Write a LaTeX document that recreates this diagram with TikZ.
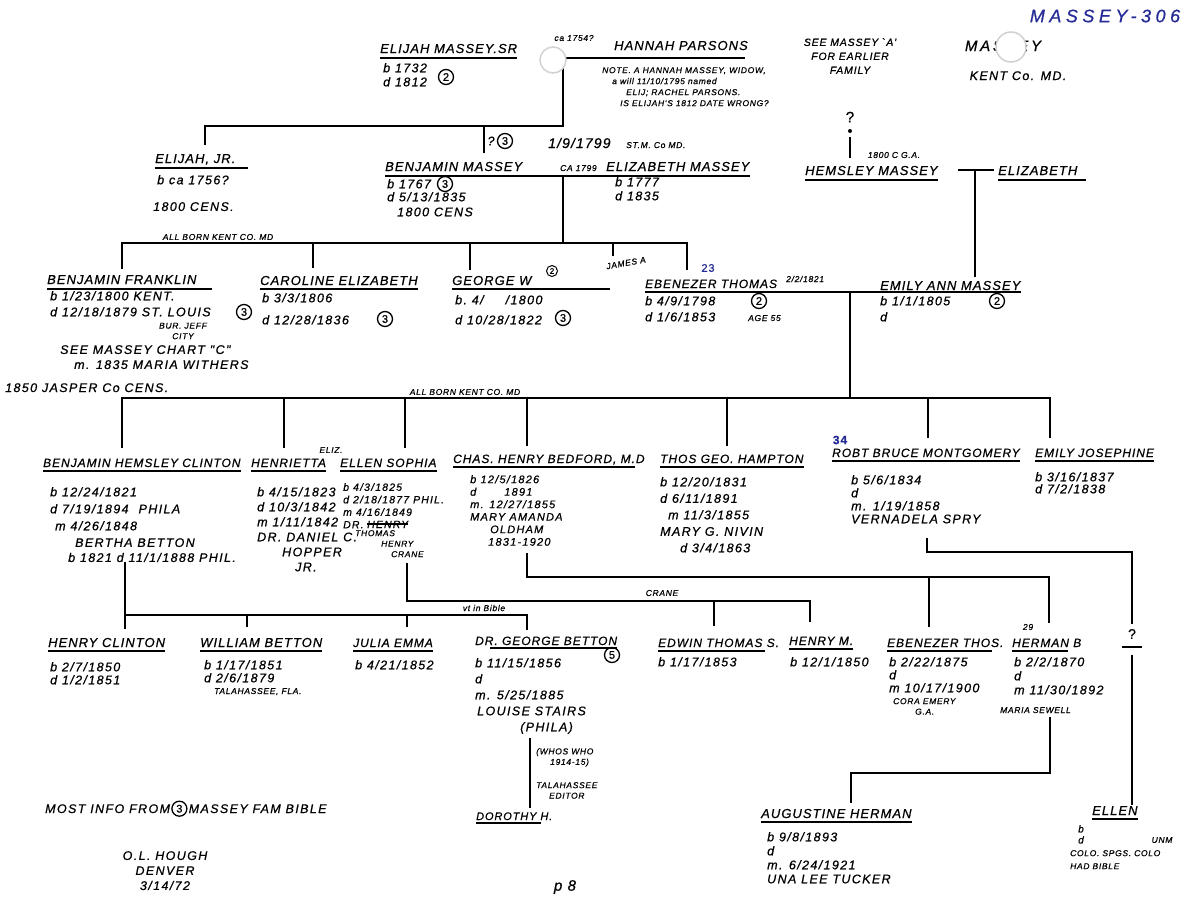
\documentclass[tikz,border=0pt]{standalone}
\usepackage{fontspec}
\usetikzlibrary{positioning}
\newfontfamily\hand{Liberation Sans}[LetterSpace=8, FakeBold=0.7]
\newfontfamily\handw{Liberation Sans}[LetterSpace=11, FakeBold=0.7]
\definecolor{ink}{RGB}{38,44,150}

\begin{document}
\begin{tikzpicture}[x=1pt,y=-1pt,
  nm/.style={font=\hand\itshape\fontsize{13}{15}\selectfont, inner sep=0pt, anchor=base west},
  nms/.style={font=\hand\itshape\fontsize{12}{14}\selectfont, inner sep=0pt, anchor=base west},
  dt/.style={font=\handw\itshape\fontsize{12.5}{#1}\selectfont, inner sep=0pt, anchor=north west, align=left},
  dt/.default=14,
  sm/.style={font=\hand\itshape\fontsize{8.5}{#1}\selectfont, inner sep=0pt},
  sm/.default=10.5,
  circ/.style={draw, circle, line width=1.3pt, inner sep=0pt, minimum size=15pt, font=\hand\fontsize{11}{11}\selectfont},
  lnk/.style={line width=1.7pt},
  ul/.style={line width=1.2pt},
  hole/.style={circle, fill=white, draw=black!18, line width=1.5pt, minimum size=26pt, inner sep=0pt},
  dot/.style={circle, fill=black, inner sep=0pt, minimum size=4pt}]
\fill[white] (0,0) rectangle (1194,900);
\useasboundingbox (0,0) rectangle (1194,900);

% heading and notes
\node[text=ink, font=\hand\itshape\fontsize{18}{18}\selectfont\addfontfeature{LetterSpace=25}] (chartno) at (1105,16) {MASSEY-306};
\node[font=\hand\itshape\fontsize{10.5}{14}\selectfont, inner sep=0pt, align=center, anchor=north] (seeA) at (850,38) {SEE MASSEY `A'\\FOR EARLIER\\FAMILY};
\node[font=\hand\itshape\fontsize{15}{15}\selectfont\addfontfeature{LetterSpace=18}, inner sep=0pt, anchor=base] (family) at (1003,51) {MASSEY};
\node[dt, anchor=base] (kent) at (1018,80) {KENT Co. MD.};
\node[hole, minimum size=30pt] (hole2) at (1011,47) {};

% Elijah Sr and Hannah
\node[nm] (elijahsr) at (380,53) {ELIJAH MASSEY.SR};
\draw[ul] ([yshift=-5pt]elijahsr.base west) -- ([yshift=-5pt]elijahsr.base east);
\node[dt] (elijahsrD) at (383,63) {b 1732\\d 1812};
\node[circ] (c1) at (446,77) {2};
\node[sm] (ca1754) at (574,38) {ca 1754?};
\node[nm] (hannah) at (614,50) {HANNAH PARSONS};
\node[sm=11, anchor=north west, align=left] (note) at (602,67) {NOTE. A HANNAH MASSEY, WIDOW,\\\hspace{10pt}a will 11/10/1795 named\\\hspace{24pt}ELIJ; RACHEL PARSONS.\\\hspace{18pt}IS ELIJAH'S 1812 DATE WRONG?};
\coordinate (m0) at (563,58);
\coordinate (m0e) at (745,58);
\coordinate (j0) at (563,126);
\coordinate (b0l) at (205,126);
\coordinate (b0m) at (484,126);
\coordinate (d0a) at (205,145);
\coordinate (d0b) at (484,153);
\draw[ul] (m0) -- (m0e);
\draw[lnk] (m0) -- (j0) -- (b0l) -- (d0a);
\draw[lnk] (b0m) -- (d0b);
\node[hole] (hole1) at (553,60) {};
\node[dt, anchor=center] (q0) at (491,141) {?};
\node[circ] (c2) at (505,141) {3};

% Elijah Jr
\node[nm] (elijahjr) at (155,163) {ELIJAH, JR.};
\draw[ul] ([yshift=-5pt]elijahjr.base west) -- ([yshift=-5pt,xshift=12pt]elijahjr.base east);
\node[dt] (elijahjrD) at (157,175) {b ca 1756?};
\node[dt] (elijahjrC) at (153,202) {1800 CENS.};

% Benjamin and Elizabeth
\node[font=\hand\itshape\fontsize{14}{14}\selectfont, inner sep=0pt, anchor=base west] (wed1) at (548,148) {1/9/1799};
\node[sm, anchor=base west] (wed1loc) at (626,148) {ST.M. Co MD.};
\node[nm] (benjamin) at (385,171) {BENJAMIN MASSEY};
\node[sm, anchor=base west] (ca1799) at (560,171) {CA 1799};
\node[nm] (elizabeth) at (606,171) {ELIZABETH MASSEY};
\draw[ul] ([yshift=-5pt]benjamin.base west) -- ([yshift=-5pt]elizabeth.base east);
\node[dt=13] (benjaminD) at (387,179) {b 1767\\d 5/13/1835\\[2pt]\hspace{10pt}1800 CENS};
\node[circ] (c3) at (445,184) {3};
\node[dt] (elizabethD) at (615,177) {b 1777\\d 1835};

% Hemsley and Elizabeth
\node[font=\hand\fontsize{15}{15}\selectfont, inner sep=0pt] (qm) at (850,117) {?};
\node[dot] (qdot) at (850,131) {};
\coordinate (qa) at (850,137);
\coordinate (qb) at (850,158);
\draw[ul] (qa) -- (qb);
\node[sm] (gacens) at (894,155) {1800 C G.A.};
\node[nm] (hemsley) at (805,175) {HEMSLEY MASSEY};
\draw[ul] ([yshift=-5pt]hemsley.base west) -- ([yshift=-5pt]hemsley.base east);
\node[nm] (elizabeth2) at (998,175) {ELIZABETH};
\draw[ul] ([yshift=-5pt]elizabeth2.base west) -- ([yshift=-5pt,xshift=8pt]elizabeth2.base east);
\coordinate (hdl) at (958,170);
\coordinate (hdr) at (994,170);
\coordinate (hj) at (975,170);
\coordinate (hd) at (975,277);
\draw[ul] (hdl) -- (hdr);
\draw[lnk] (hj) -- (hd);

% children of Benjamin
\coordinate (m1) at (563,176);
\coordinate (j1) at (563,243);
\coordinate (b1a) at (122,243);
\coordinate (b1b) at (313,243);
\coordinate (b1c) at (470,243);
\coordinate (b1d) at (613,243);
\coordinate (b1e) at (687,243);
\coordinate (d1a) at (122,269);
\coordinate (d1b) at (313,268);
\coordinate (d1c) at (470,270);
\coordinate (d1d) at (613,256);
\coordinate (d1e) at (687,270);
\draw[lnk] (m1) -- (j1);
\draw[lnk] (d1a) -- (b1a) -- (b1e) -- (d1e);
\draw[lnk] (b1b) -- (d1b);
\draw[lnk] (b1c) -- (d1c);
\draw[lnk] (b1d) -- (d1d);
\node[sm] (allborn1) at (218,237) {ALL BORN KENT CO. MD};

\node[nm] (bfranklin) at (47,284) {BENJAMIN FRANKLIN};
\draw[ul] ([yshift=-5pt]bfranklin.base west) -- ([yshift=-5pt,xshift=15pt]bfranklin.base east);
\node[dt=16] (bfranklinD) at (50,291) {b 1/23/1800 KENT.\\d 12/18/1879 ST. LOUIS};
\node[circ] (c4) at (244,312) {3};
\node[sm, align=center] (bfburial) at (183,331) {BUR. JEFF\\CITY};
\node[dt=15] (bfranklinM) at (60,345) {SEE MASSEY CHART "C"\\\hspace{14pt}m. 1835 MARIA WITHERS};
\node[dt, anchor=base west] (bfcens) at (5,392) {1850 JASPER Co CENS.};

\node[nm] (caroline) at (260,285) {CAROLINE ELIZABETH};
\draw[ul] ([yshift=-4pt]caroline.base west) -- ([yshift=-4pt]caroline.base east);
\node[dt=22] (carolineD) at (262,293) {b 3/3/1806\\d 12/28/1836};
\node[circ] (c5) at (385,319) {3};
\node[nm] (george) at (452,285) {GEORGE W};
\draw[ul] ([yshift=-4pt]george.base west) -- ++(158,0);
\node[circ, minimum size=11pt, line width=1pt, font=\hand\fontsize{8}{8}\selectfont] (c6) at (552,271) {2};
\node[dt=20] (georgeD) at (455,295) {b.\ 4/\hspace{22pt}/1800\\d 10/28/1822};
\node[circ] (c7) at (563,318) {3};

\node[sm, rotate=10] (jamesA) at (626,263) {JAMES A};
\node[text=ink, font=\hand\fontsize{11}{11}\selectfont] (n23) at (708,268) {23};
\node[nms] (ebenezer) at (645,288) {EBENEZER THOMAS};
\node[sm, anchor=base west] (wed2) at (786,282) {2/2/1821};
\node[nm] (emily) at (880,290) {EMILY ANN MASSEY};
\draw[ul] ([yshift=-4pt]ebenezer.base west) -- ([yshift=-2pt]emily.base east);
\node[dt=16] (ebenezerD) at (645,296) {b 4/9/1798\\d 1/6/1853};
\node[circ] (c8) at (759,301) {2};
\node[sm, anchor=base west] (age) at (748,321) {AGE 55};
\node[dt=16] (emilyD) at (880,296) {b 1/1/1805\\d};
\node[circ] (c9) at (997,301) {2};

% children of Ebenezer
\coordinate (m2) at (850,293);
\coordinate (j2) at (850,398);
\coordinate (b2a) at (122,398);
\coordinate (b2b) at (284,398);
\coordinate (b2c) at (405,398);
\coordinate (b2d) at (527,398);
\coordinate (b2e) at (727,398);
\coordinate (b2f) at (928,398);
\coordinate (b2g) at (1050,398);
\coordinate (d2a) at (122,448);
\coordinate (d2b) at (284,448);
\coordinate (d2c) at (405,448);
\coordinate (d2d) at (527,446);
\coordinate (d2e) at (727,446);
\coordinate (d2f) at (928,438);
\coordinate (d2g) at (1050,438);
\draw[lnk] (m2) -- (j2);
\draw[lnk] (d2a) -- (b2a) -- (b2g) -- (d2g);
\draw[lnk] (b2b) -- (d2b);
\draw[lnk] (b2c) -- (d2c);
\draw[lnk] (b2d) -- (d2d);
\draw[lnk] (b2e) -- (d2e);
\draw[lnk] (b2f) -- (d2f);
\node[sm] (allborn2) at (465,392) {ALL BORN KENT CO. MD};

\node[nms] (bhclinton) at (43,467) {BENJAMIN HEMSLEY CLINTON};
\draw[ul] ([yshift=-4pt]bhclinton.base west) -- ([yshift=-4pt]bhclinton.base east);
\node[dt=17] (bhclintonD) at (50,487) {b 12/24/1821\\d 7/19/1894\hspace{10pt}PHILA\\\hspace{5pt}m 4/26/1848};
\node[dt=15] (bertha) at (68,538) {\hspace{7pt}BERTHA BETTON\\b 1821 d 11/1/1888 PHIL.};

\node[sm] (eliz) at (331,450) {ELIZ.};
\node[nms] (henrietta) at (251,467) {HENRIETTA};
\draw[ul] ([yshift=-4pt]henrietta.base west) -- ([yshift=-4pt]henrietta.base east);
\node[dt=15] (henriettaD) at (257,487) {b 4/15/1823\\d 10/3/1842\\m 1/11/1842\\DR. DANIEL C.\\\hspace{25pt}HOPPER\\\hspace{38pt}JR.};

\node[nms] (ellen) at (340,467) {ELLEN SOPHIA};
\draw[ul] ([yshift=-4pt]ellen.base west) -- ([yshift=-4pt]ellen.base east);
\node[dt=12.5, font=\handw\itshape\fontsize{10.5}{12.5}\selectfont] (ellenD) at (343,483) {b 4/3/1825\\d 2/18/1877 PHIL.\\m 4/16/1849\\DR.};
\node[font=\handw\itshape\fontsize{10.5}{12.5}\selectfont, inner sep=0pt, anchor=base west] (ellenX) at (367,528) {HENRY};
\draw[line width=2pt] (ellenX.west) -- (ellenX.east);
\node[sm=10.5, anchor=north west, align=left] (ellenH) at (355,530) {THOMAS\\\hspace{26pt}HENRY\\\hspace{36pt}CRANE};

\node[nms] (chas) at (453,463) {CHAS. HENRY BEDFORD, M.D};
\draw[ul] ([yshift=-4pt]chas.base west) -- ([yshift=-4pt,xshift=-10pt]chas.base east);
\node[dt=12.5, font=\handw\itshape\fontsize{11}{12.5}\selectfont] (chasD) at (470,475) {b 12/5/1826\\d\hspace{28pt}1891\\m. 12/27/1855\\MARY AMANDA\\\hspace{20pt}OLDHAM\\\hspace{18pt}1831-1920};

\node[nms] (thos) at (660,463) {THOS GEO. HAMPTON};
\draw[ul] ([yshift=-4pt]thos.base west) -- ([yshift=-4pt]thos.base east);
\node[dt=16.5] (thosD) at (660,477) {b 12/20/1831\\d 6/11/1891\\\hspace{8pt}m 11/3/1855\\MARY G. NIVIN\\\hspace{20pt}d 3/4/1863};

\node[text=ink, font=\hand\bfseries\fontsize{12}{12}\selectfont] (n34) at (840,440) {34};
\node[nms] (robt) at (832,457) {ROBT BRUCE MONTGOMERY};
\draw[ul] ([yshift=-4pt]robt.base west) -- ([yshift=-4pt]robt.base east);
\node[dt=13] (robtD) at (851,475) {b 5/6/1834\\d\\m. 1/19/1858\\VERNADELA SPRY};
\node[nms] (emilyj) at (1035,457) {EMILY JOSEPHINE};
\draw[ul] ([yshift=-4pt]emilyj.base west) -- ([yshift=-4pt]emilyj.base east);
\node[dt=12] (emilyjD) at (1035,472) {b 3/16/1837\\d 7/2/1838};

% grandchildren
\coordinate (m3) at (125,562);
\coordinate (j3) at (125,615);
\coordinate (b3b) at (247,615);
\coordinate (b3c) at (407,615);
\coordinate (b3d) at (527,615);
\coordinate (d3a) at (125,629);
\coordinate (d3b) at (247,627);
\coordinate (d3c) at (407,627);
\coordinate (d3d) at (527,630);
\draw[lnk] (m3) -- (d3a);
\draw[lnk] (j3) -- (b3d) -- (d3d);
\draw[lnk] (b3b) -- (d3b);
\draw[lnk] (b3c) -- (d3c);
\node[sm] (vtbible) at (484,608) {vt in Bible};

\coordinate (m4) at (407,563);
\coordinate (j4) at (407,601);
\coordinate (b4a) at (714,601);
\coordinate (b4b) at (810,601);
\coordinate (d4a) at (714,626);
\coordinate (d4b) at (810,622);
\draw[lnk] (m4) -- (j4) -- (b4b) -- (d4b);
\draw[lnk] (b4a) -- (d4a);
\node[sm] (crane) at (662,593) {CRANE};

\coordinate (m5) at (527,553);
\coordinate (j5) at (527,577);
\coordinate (b5a) at (929,577);
\coordinate (b5b) at (1049,577);
\coordinate (d5a) at (929,627);
\coordinate (d5b) at (1049,623);
\draw[lnk] (m5) -- (j5) -- (b5b) -- (d5b);
\draw[lnk] (b5a) -- (d5a);

\coordinate (m6) at (927,538);
\coordinate (j6) at (927,552);
\coordinate (b6) at (1132,552);
\coordinate (d6) at (1132,624);
\draw[lnk] (m6) -- (j6) -- (b6) -- (d6);

\node[nm] (henryc) at (48,647) {HENRY CLINTON};
\draw[ul] ([yshift=-4pt]henryc.base west) -- ([yshift=-4pt]henryc.base east);
\node[dt=13] (henrycD) at (50,662) {b 2/7/1850\\d 1/2/1851};
\node[nm] (william) at (200,647) {WILLIAM BETTON};
\draw[ul] ([yshift=-4pt]william.base west) -- ([yshift=-4pt]william.base east);
\node[dt=13] (williamD) at (204,660) {b 1/17/1851\\d 2/6/1879};
\node[sm, anchor=base west] (tala) at (214,694) {TALAHASSEE, FLA.};
\node[nms] (julia) at (353,647) {JULIA EMMA};
\draw[ul] ([yshift=-4pt]julia.base west) -- ([yshift=-4pt]julia.base east);
\node[dt] (juliaD) at (355,660) {b 4/21/1852};
\node[nms] (georgeb) at (475,645) {DR. GEORGE BETTON};
\draw[ul] ([yshift=-3pt,xshift=15pt]georgeb.base west) -- ([yshift=-3pt]georgeb.base east);
\node[circ] (c10) at (612,655) {5};
\node[dt=16] (georgebD) at (475,658) {b 11/15/1856\\d\\m. 5/25/1885\\\hspace{2pt}LOUISE STAIRS\\\hspace{45pt}(PHILA)};
\coordinate (m7) at (530,738);
\coordinate (d7) at (530,808);
\draw[ul] (m7) -- (d7);
\node[sm, anchor=north west, align=left] (whoswho) at (536,748) {(WHOS WHO\\\hspace{14pt}1914-15)};
\node[sm, anchor=north west, align=center] (editor) at (536,782) {TALAHASSEE\\EDITOR};
\node[nm, font=\hand\itshape\fontsize{11}{13}\selectfont] (dorothy) at (476,820) {DOROTHY H.};
\draw[ul] ([yshift=-3pt]dorothy.base west) -- ([yshift=-3pt,xshift=-12pt]dorothy.base east);

\node[nms] (edwin) at (658,647) {EDWIN THOMAS S.};
\draw[ul] ([yshift=-4pt]edwin.base west) -- ([yshift=-4pt,xshift=-14pt]edwin.base east);
\node[dt] (edwinD) at (658,657) {b 1/17/1853};
\node[nms] (henrym) at (789,645) {HENRY M.};
\draw[ul] ([yshift=-4pt]henrym.base west) -- ([yshift=-4pt]henrym.base east);
\node[dt] (henrymD) at (790,657) {b 12/1/1850};
\node[nms] (ebthos) at (887,647) {EBENEZER THOS.};
\draw[ul] ([yshift=-4pt]ebthos.base west) -- ([yshift=-4pt,xshift=-12pt]ebthos.base east);
\node[dt=13] (ebthosD) at (889,657) {b 2/22/1875\\d\\m 10/17/1900};
\node[sm, anchor=north west, align=left] (cora) at (893,698) {CORA EMERY\\\hspace{22pt}G.A.};
\node[sm] (n29) at (1028,627) {29};
\node[nms] (herman) at (1012,647) {HERMAN B};
\draw[ul] ([yshift=-4pt]herman.base west) -- ([yshift=-4pt,xshift=-14pt]herman.base east);
\node[dt=14] (hermanD) at (1014,657) {b 2/2/1870\\d\\m 11/30/1892};
\node[sm, anchor=base west] (maria) at (1000,713) {MARIA SEWELL};
\node[font=\hand\fontsize{14}{14}\selectfont, inner sep=0pt] (qchild) at (1132,634) {?};
\draw[ul] ([yshift=-8pt,xshift=-10pt]qchild.south) -- ([yshift=-8pt,xshift=10pt]qchild.south);

\coordinate (m8) at (1050,717);
\coordinate (j8) at (1050,773);
\coordinate (b8) at (851,773);
\coordinate (d8) at (851,803);
\draw[lnk] (m8) -- (j8) -- (b8) -- (d8);
\coordinate (m9) at (1132,655);
\coordinate (d9) at (1132,805);
\draw[lnk] (m9) -- (d9);

\node[nm] (augustine) at (761,818) {AUGUSTINE HERMAN};
\draw[ul] ([yshift=-4pt]augustine.base west) -- ([yshift=-4pt]augustine.base east);
\node[dt=14] (augustineD) at (767,832) {b 9/8/1893\\d\\m. 6/24/1921\\UNA LEE TUCKER};
\node[nm] (ellen2) at (1092,815) {ELLEN};
\draw[ul] ([yshift=-4pt]ellen2.base west) -- ([yshift=-4pt]ellen2.base east);
\node[dt=11, font=\handw\itshape\fontsize{10}{11}\selectfont] (ellen2D) at (1078,825) {b\\d};
\node[sm] (unm) at (1162,840) {UNM};
\node[sm=13, anchor=north west, align=left] (colo) at (1070,850) {COLO. SPGS. COLO\\HAD BIBLE};

% sources
\node[dt, anchor=base west] (mostinfo) at (45,813) {MOST INFO FROM};
\node[circ, right=1pt of mostinfo] (c11) {3};
\node[dt, right=1pt of c11] (fambible) {MASSEY FAM BIBLE};
\node[dt=15, align=center, anchor=north] (hough) at (165,851) {O.L. HOUGH\\DENVER\\3/14/72};
\node[font=\hand\itshape\fontsize{15}{15}\selectfont] (page) at (565,887) {p 8};
\end{tikzpicture}
\end{document}
